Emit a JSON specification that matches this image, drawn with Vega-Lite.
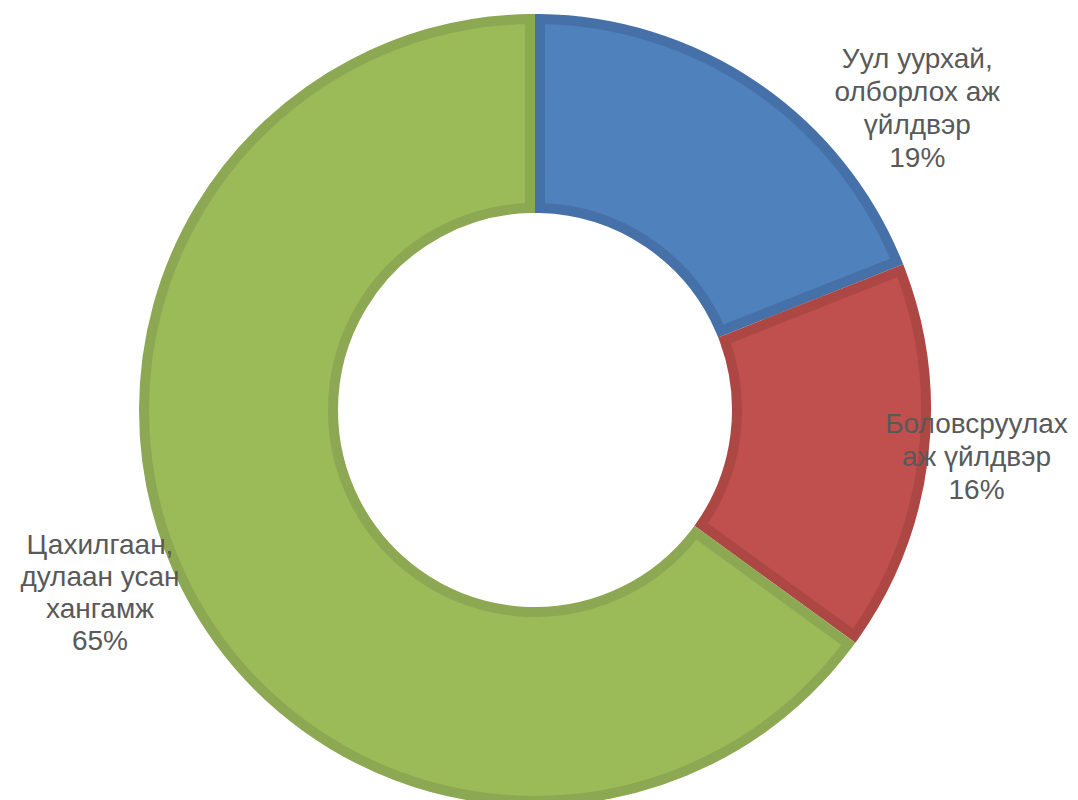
{
  "$schema": "https://vega.github.io/schema/vega-lite/v6.json",
  "width": 1070,
  "height": 780,
  "autosize": {"type": "none"},
  "padding": {"left": 0, "top": 20, "right": 8, "bottom": 0},
  "background": "white",
  "config": {"view": {"stroke": null}},
  "data": {
    "values": [
      {"sector": "Уул уурхай, олборлох аж үйлдвэр", "label": "Уул уурхай,\nолборлох аж\nүйлдвэр\n19%", "share": 19, "rank": 1},
      {"sector": "Боловсруулах аж үйлдвэр", "label": "Боловсруулах\nаж үйлдвэр\n16%", "share": 16, "rank": 2},
      {"sector": "Цахилгаан, дулаан усан хангамж", "label": "Цахилгаан,\nдулаан усан\nхангамж\n65%", "share": 65, "rank": 3}
    ]
  },
  "encoding": {
    "theta": {"field": "share", "type": "quantitative", "stack": true},
    "order": {"field": "rank", "type": "quantitative"}
  },
  "layer": [
    {
      "mark": {"type": "arc", "outerRadius": 391, "innerRadius": 202, "strokeWidth": 10, "padAngle": 0.0227, "strokeJoin": "miter"},
      "encoding": {
        "color": {
          "field": "sector", "type": "nominal",
          "scale": {"domain": ["Уул уурхай, олборлох аж үйлдвэр", "Боловсруулах аж үйлдвэр", "Цахилгаан, дулаан усан хангамж"], "range": ["#4F81BD", "#C0504D", "#9BBB59"]},
          "legend": null
        },
        "stroke": {
          "field": "sector", "type": "nominal",
          "scale": {"domain": ["Уул уурхай, олборлох аж үйлдвэр", "Боловсруулах аж үйлдвэр", "Цахилгаан, дулаан усан хангамж"], "range": ["#4571A8", "#AD4744", "#8DA852"]},
          "legend": null
        }
      }
    },
    {
      "mark": {"type": "text", "radius": 440, "dx": 135, "dy": 14, "font": "Liberation Sans", "fontSize": 28, "lineHeight": 33, "fill": "#595959", "lineBreak": "\n", "align": "center", "baseline": "middle"},
      "encoding": {"text": {"condition": {"test": "datum.rank === 1", "field": "label"}, "value": ""}}
    },
    {
      "mark": {"type": "text", "radius": 440, "dx": 5, "dy": -40, "font": "Liberation Sans", "fontSize": 28, "lineHeight": 33, "fill": "#595959", "lineBreak": "\n", "align": "center", "baseline": "middle"},
      "encoding": {"text": {"condition": {"test": "datum.rank === 2", "field": "label"}, "value": ""}}
    },
    {
      "mark": {"type": "text", "radius": 440, "dx": -43, "dy": -64, "font": "Liberation Sans", "fontSize": 28, "lineHeight": 32, "fill": "#595959", "lineBreak": "\n", "align": "center", "baseline": "middle"},
      "encoding": {"text": {"condition": {"test": "datum.rank === 3", "field": "label"}, "value": ""}}
    }
  ]
}
